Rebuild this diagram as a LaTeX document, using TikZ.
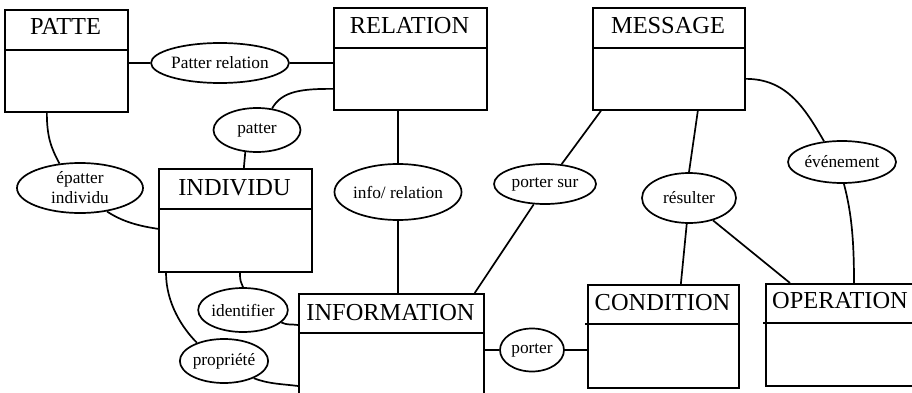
\documentclass[tikz,border=0pt]{standalone}
\usepackage{fontspec}
\setmainfont{Liberation Serif}
\usetikzlibrary{shapes.geometric}
\begin{document}
\begin{tikzpicture}[x=1pt,y=-1pt,
  entity/.style={draw, line width=1.7pt, rectangle, inner sep=0pt, anchor=north west},
  divider/.style={line width=1.7pt},
  etitle/.style={anchor=base, inner sep=0pt, font=\fontsize{24.4}{28}\selectfont},
  rel/.style={draw, ellipse, line width=1.7pt, inner sep=0pt, align=center, font=\fontsize{17.3}{20}\selectfont},
  link/.style={line width=1.7pt}]
\useasboundingbox (0,0) rectangle (912,393);
\clip (0,0) rectangle (912,393);

% entities
\node[entity, minimum width=123pt, minimum height=102pt] (patte) at (4,9) {};
\draw[divider] (patte.west |- 0,50) -- (patte.east |- 0,50);
\node[etitle] (patte-t) at (65.5,35) {PATTE};

\node[entity, minimum width=153pt, minimum height=102pt] (relation) at (333,7) {};
\draw[divider] (relation.west |- 0,48) -- (relation.east |- 0,48);
\node[etitle] (relation-t) at (409.5,34) {RELATION};

\node[entity, minimum width=152pt, minimum height=102pt] (message) at (592,7) {};
\draw[divider] (message.west |- 0,48) -- (message.east |- 0,48);
\node[etitle] (message-t) at (668,34) {MESSAGE};

\node[entity, minimum width=153pt, minimum height=103pt] (individu) at (158,168) {};
\draw[divider] (individu.west |- 0,209) -- (individu.east |- 0,209);
\node[etitle] (individu-t) at (234.5,195) {INDIVIDU};

\node[entity, minimum width=185pt, minimum height=147pt] (information) at (298,293) {};
\draw[divider] (information.west |- 0,333) -- (information.east |- 0,333);
\node[etitle] (information-t) at (390.5,320) {INFORMATION};

\node[entity, minimum width=151pt, minimum height=103pt] (condition) at (587,284) {};
\draw[divider] ([xshift=-2pt]condition.west |- 0,324) -- (condition.east |- 0,324);
\node[etitle] (condition-t) at (662.5,310) {CONDITION};

\node[entity, minimum width=153pt, minimum height=102pt] (operation) at (765,283) {};
\draw[divider] ([xshift=-2pt]operation.west |- 0,323) -- (operation.east |- 0,323);
\node[etitle] (operation-t) at (840,308) {OPERATION};

% relationships
\node[rel, minimum width=126pt, minimum height=40pt] (pr) at (220,63) {Patter relation};
\node[rel, minimum width=87pt, minimum height=44pt] (patter) at (257,130) {patter};
\node[rel, minimum width=126pt, minimum height=50pt] (epi) at (80,188) {épatter\\individu};
\node[rel, minimum width=127pt, minimum height=56pt] (infor) at (398,192) {info/ relation};
\node[rel, minimum width=102pt, minimum height=40pt] (portersur) at (545,184) {porter sur};
\node[rel, minimum width=108pt, minimum height=42pt] (evt) at (842,162) {événement};
\node[rel, minimum width=94pt, minimum height=50pt] (res) at (689,198) {résulter};
\node[rel, minimum width=88pt, minimum height=44pt] (ident) at (243,310) {identifier};
\node[rel, minimum width=85pt, minimum height=44pt] (prop) at (224,361) {propriété};
\node[rel, minimum width=64pt, minimum height=43pt] (porter) at (532,350) {porter};

% connectors
\draw[link] (patte.east |- pr.west) -- (pr.west);
\draw[link] (pr.east) -- (relation.west |- pr.east);
\draw[link] (patter.55) .. controls +(10,-18) and +(-30,0) .. ([yshift=-30pt]relation.west);
\draw[link] (patter.242) -- ([xshift=8.5pt]individu.north);
\draw[link] ([xshift=-19.5pt]patte.south) .. controls +(0,25) and +(-8,-15) .. (epi.130);
\draw[link] (epi.319) .. controls +(15,10) and +(-20,-3) .. ([yshift=-8.5pt]individu.west);
\draw[link] (infor.north |- relation.south) -- (infor.north);
\draw[link] (infor.south) -- (infor.south |- information.north);
\draw[link] ([xshift=9pt]message.south west) -- (portersur.50);
\draw[link] (portersur.241) -- ([xshift=-10pt]information.north east);
\draw[link] ([xshift=29pt]message.south) -- (res.north);
\draw[link] ([yshift=-20pt]message.east) .. controls +(40,0) and +(-20,-35) .. (evt.131);
\draw[link] (evt.275) .. controls +(8,30) and +(0,-40) .. ([xshift=89pt]operation.north west);
\draw[link] (res.265) -- ([xshift=17.5pt]condition.north);
\draw[link] (res.317) -- ([xshift=25pt]operation.north west);
\draw[link] (porter.west) -- (porter.west -| information.east);
\draw[link] (porter.east) -- (porter.east -| condition.west);
\draw[link] ([xshift=82pt]individu.south west) .. controls +(0,10) and +(-2,-6) .. (ident.north);
\draw[link] (ident.-18) .. controls +(6,3) and +(-6,-1) .. ([yshift=-32pt]information.north west);
\draw[link] ([xshift=8pt]individu.south west) .. controls +(0,30) and +(-15,-15) .. (prop.146);
\draw[link] (prop.-30) .. controls +(15,6) and +(-15,-2) .. ([yshift=-93pt]information.north west);
\end{tikzpicture}
\end{document}
